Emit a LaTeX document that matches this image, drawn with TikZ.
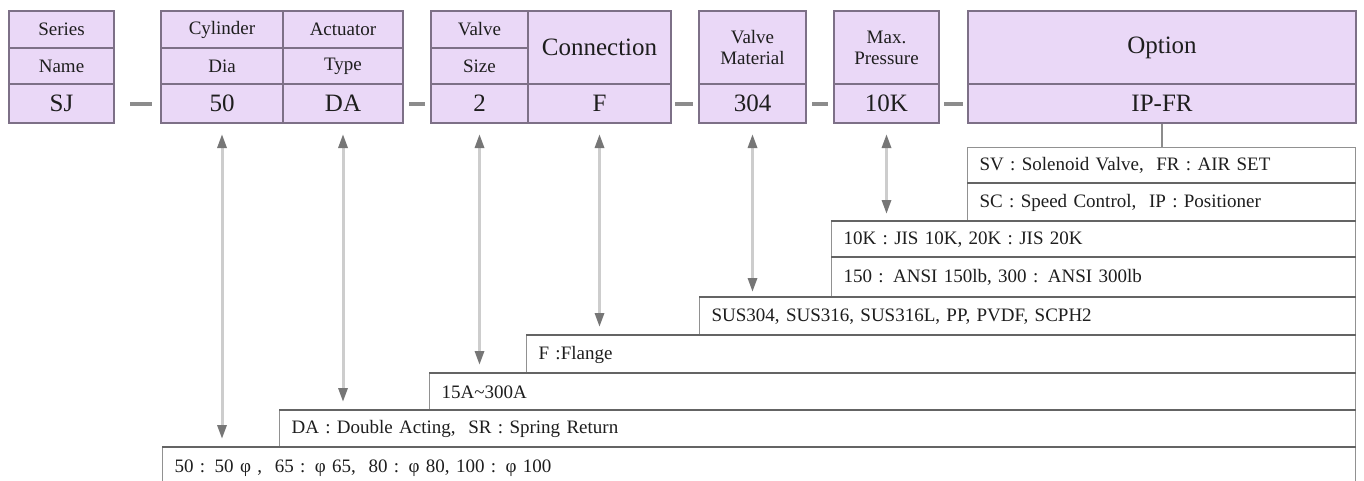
\documentclass[tikz,border=0pt]{standalone}
\usepackage{fontspec}
\setmainfont{Liberation Serif}
\usetikzlibrary{arrows.meta}
\definecolor{cellfill}{RGB}{234,216,247}
\definecolor{cellline}{RGB}{125,112,135}
\definecolor{txt}{RGB}{30,30,30}
\definecolor{arrline}{RGB}{205,205,205}
\definecolor{arrhead}{RGB}{118,118,118}
\definecolor{boxline}{RGB}{145,145,145}
\definecolor{boxtop}{RGB}{100,100,100}
\definecolor{dashcol}{RGB}{140,140,140}
\begin{document}
\begin{tikzpicture}[x=1pt,y=-1pt,
  cell/.style={draw=cellline, fill=cellfill, line width=2pt, anchor=north west, inner sep=0pt, text=txt, font=\fontsize{19}{21}\selectfont, align=center},
  bigcell/.style={cell, font=\fontsize{25}{27}\selectfont},
  valcell/.style={cell, font=\fontsize{25}{27}\selectfont},
  optbox/.style={draw=boxline, line width=1.2pt, anchor=north west, inner xsep=12pt, inner ysep=0pt, align=left, text=txt, font=\fontsize{19}{21}\selectfont, fill=white},
  topedge/.style={draw=boxtop, line width=2.5pt},
  link/.style={draw=dashcol, line width=4pt},
  dbl/.style={arrline, line width=3pt, {Triangle[length=14pt,width=9pt,color=arrhead]}-{Triangle[length=14pt,width=9pt,color=arrhead]}, shorten <=10pt, shorten >=8pt},
  optline/.style={draw=dashcol, line width=2pt},
]
\useasboundingbox (0,0) rectangle (1364,480);

% ---- header cells ----
\node[cell, minimum width=105pt, minimum height=37pt] (ser1) at (8,10) {Series};
\node[cell, minimum width=105pt, minimum height=36pt] (ser2) at (8,47) {Name};
\node[valcell, minimum width=105pt, minimum height=39pt] (ser3) at (8,83) {SJ};

\node[cell, minimum width=122pt, minimum height=37pt] (cyl1) at (160,10) {Cylinder};
\node[cell, minimum width=122pt, minimum height=36pt] (cyl2) at (160,47) {Dia};
\node[valcell, minimum width=122pt, minimum height=39pt] (cyl3) at (160,83) {50};

\node[cell, minimum width=120pt, minimum height=37pt] (act1) at (282,10) {Actuator};
\node[cell, minimum width=120pt, minimum height=36pt] (act2) at (282,47) {Type};
\node[valcell, minimum width=120pt, minimum height=39pt] (act3) at (282,83) {DA};

\node[cell, minimum width=97pt, minimum height=37pt] (vs1) at (430,10) {Valve};
\node[cell, minimum width=97pt, minimum height=36pt] (vs2) at (430,47) {Size};
\node[valcell, minimum width=97pt, minimum height=39pt] (vs3) at (430,83) {2};

\node[bigcell, minimum width=143pt, minimum height=73pt] (con1) at (527,10) {Connection};
\node[valcell, minimum width=143pt, minimum height=39pt] (con2) at (527,83) {F};

\node[cell, minimum width=107pt, minimum height=73pt] (mat1) at (698,10) {Valve\\Material};
\node[valcell, minimum width=107pt, minimum height=39pt] (mat2) at (698,83) {304};

\node[cell, minimum width=105pt, minimum height=73pt] (pr1) at (833,10) {Max.\\Pressure};
\node[valcell, minimum width=105pt, minimum height=39pt] (pr2) at (833,83) {10K};

\node[bigcell, minimum width=388pt, minimum height=73pt] (opt1) at (967,10) {Option};
\node[valcell, minimum width=388pt, minimum height=39pt] (opt2) at (967,83) {IP-FR};

% ---- dashes ----
\draw[link] ([xshift=15pt]ser3.east) -- ([xshift=-8pt]cyl3.west);
\draw[link] ([xshift=5pt]act3.east) -- ([xshift=-5pt]vs3.west);
\draw[link] ([xshift=3pt]con2.east) -- ([xshift=-5pt]mat2.west);
\draw[link] ([xshift=5pt]mat2.east) -- ([xshift=-5pt]pr2.west);
\draw[link] ([xshift=4pt]pr2.east) -- ([xshift=-4pt]opt2.west);

% ---- option boxes ----
\node[optbox, text width=364pt, minimum height=36pt] (sv) at (967,147) {SV : Solenoid Valve,\ \ FR : AIR SET};
\node[optbox, text width=364pt, minimum height=38pt] (sc) at (967,183) {SC : Speed Control,\ \ IP : Positioner};
\node[optbox, text width=500pt, minimum height=36pt] (jis) at (831,221) {10K : JIS 10K, 20K : JIS 20K};
\node[optbox, text width=500pt, minimum height=40pt] (ansi) at (831,257) {150 : ANSI 150lb, 300 : ANSI 300lb};
\node[optbox, text width=632pt, minimum height=38pt] (sus) at (699,297) {SUS304, SUS316, SUS316L, PP, PVDF, SCPH2};
\node[optbox, text width=805pt, minimum height=38pt] (flg) at (526,335) {F :Flange};
\node[optbox, text width=902pt, minimum height=37pt] (siz) at (429,373) {15A\char"007E 300A};
\node[optbox, text width=1052pt, minimum height=37pt] (typ) at (279,410) {DA : Double Acting,\ \ SR : Spring Return};
\node[optbox, text width=1169pt, minimum height=42pt] (dia) at (162,447) {50 : 50 φ ,\ \ 65 : φ 65,\ \ 80 : φ 80, 100 : φ 100};

\foreach \b in {sc,jis,ansi,sus,flg,siz,typ,dia}
  \draw[topedge] (\b.north west) -- (\b.north east);

% ---- connectors ----
\draw[dbl] (cyl3.south) -- (cyl3.south |- dia.north);
\draw[dbl] (act3.south) -- (act3.south |- typ.north);
\draw[dbl] (vs3.south) -- (vs3.south |- siz.north);
\draw[dbl] (con2.south) -- (con2.south |- flg.north);
\draw[dbl, shorten >=5pt] (mat2.south) -- (mat2.south |- sus.north);
\draw[dbl, shorten >=7pt] (pr2.south) -- (pr2.south |- jis.north);
\draw[optline] (opt2.south) -- (opt2.south |- sv.north);
\end{tikzpicture}
\end{document}
